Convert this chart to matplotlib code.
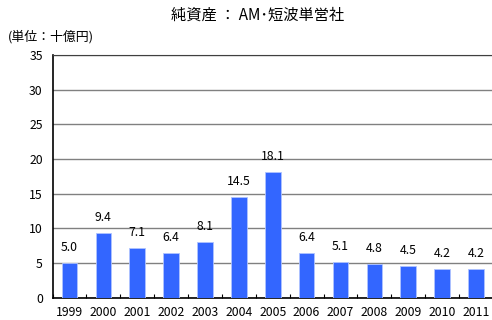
import matplotlib
matplotlib.use("Agg")
import matplotlib.pyplot as plt
import numpy as np

plt.rcParams['font.family'] = ['Noto Sans CJK JP', 'DejaVu Sans']

years = ['1999', '2000', '2001', '2002', '2003', '2004', '2005', '2006',
         '2007', '2008', '2009', '2010', '2011']
values = [5.0, 9.4, 7.1, 6.4, 8.1, 14.5, 18.1, 6.4, 5.1, 4.8, 4.5, 4.2, 4.2]
title = '純資産 ： AM･短波単営社'
unit = '(単位：十億円)'

fig = plt.figure(figsize=(4.92, 3.2), dpi=100)
ax = fig.add_axes([52.5/492, (320-297.7)/320, 440.5/492, (297.7-55)/320])

x = np.arange(len(years))
ax.bar(x, values, width=0.46, color='#3366FF', edgecolor='#AFC3FF', linewidth=0.6, zorder=3)
for xi, v in zip(x, values):
    ax.text(xi, v + 1.3, f'{v:.1f}', ha='center', va='bottom', fontsize=8.8, color='black')

ax.set_xlim(-0.5, len(years) - 0.5)
ax.set_ylim(0, 35)
ax.set_yticks(np.arange(0, 36, 5))
ax.yaxis.grid(True, color='#808080', linewidth=1.0, zorder=0)
ax.set_axisbelow(True)
ax.set_xticks(x)
ax.set_xticklabels(years, fontsize=8.8)
ax.set_xticks(np.arange(-0.5, len(years), 1), minor=True)
ax.tick_params(axis='x', which='major', length=0, pad=6)
ax.tick_params(axis='x', which='minor', direction='in', length=3, width=0.8)
ax.tick_params(axis='y', length=0, labelsize=8.8, pad=7)
ax.spines['top'].set_visible(True)
ax.spines['top'].set_color('#404040')
ax.spines['right'].set_visible(False)
ax.spines['left'].set_linewidth(1.2)
ax.spines['bottom'].set_linewidth(1.2)

fig.text(258/492, 1 - 15/320, title, ha='center', va='center', fontsize=11)
fig.text(8/492, 1 - 37/320, unit, ha='left', va='center', fontsize=9.3)

fig.savefig('out.png', dpi=100)
